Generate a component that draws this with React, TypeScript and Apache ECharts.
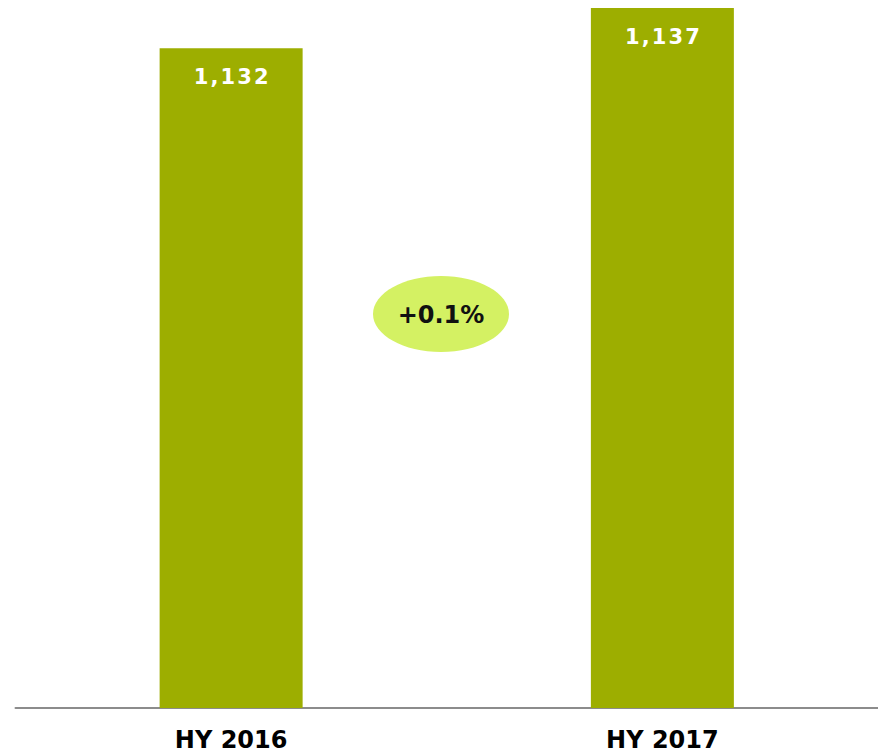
import React, { useEffect, useRef } from "react";
import * as echarts from "echarts";

const categories = ["HY 2016", "HY 2017"];
const values = [1132, 1137];
const changeLabel = "+0.1%";

export default function App() {
  const ref = useRef<HTMLDivElement>(null);
  useEffect(() => {
    document.body.style.margin = "0";
    const chart = echarts.init(ref.current!, null, { renderer: "svg" });
    chart.setOption({
      animation: false,
      backgroundColor: "#ffffff",
      grid: { left: 15.5, right: 0, top: 8, bottom: 45, containLabel: false },
      xAxis: {
        type: "category",
        data: categories,
        axisLine: { show: true, lineStyle: { color: "#8c8c8c", width: 2 } },
        axisTick: { show: false },
        axisLabel: {
          color: "#000000",
          fontFamily: "DejaVu Sans",
          fontWeight: "bold",
          fontSize: 24,
          margin: 20,
        },
      },
      yAxis: {
        type: "value",
        min: 1050,
        max: 1137,
        show: false,
        splitLine: { show: false },
      },
      series: [
        {
          type: "bar",
          data: values,
          barWidth: 143,
          itemStyle: { color: "#9DAE00" },
          label: {
            show: true,
            position: "insideTop",
            distance: 18,
            color: "#ffffff",
            fontFamily: "DejaVu Sans",
            fontWeight: "bold",
            fontSize: 21,
            formatter: (p: any) => p.value.toLocaleString("en-US").split("").join("\u200a"),
          },
        },
      ],
      graphic: [
        {
          type: "ellipse",
          shape: { cx: 441, cy: 314, rx: 68, ry: 38 },
          style: { fill: "#D4F163" },
          z: 10,
        },
        {
          type: "text",
          x: 441,
          y: 315,
          z: 11,
          style: {
            text: changeLabel,
            fill: "#111111",
            font: "bold 24px 'DejaVu Sans'",
            align: "center",
            verticalAlign: "middle",
          },
        },
      ],
    });
    return () => chart.dispose();
  }, []);
  return <div ref={ref} style={{ width: 878, height: 753, position: "absolute", left: 0, top: 0 }} />;
}
